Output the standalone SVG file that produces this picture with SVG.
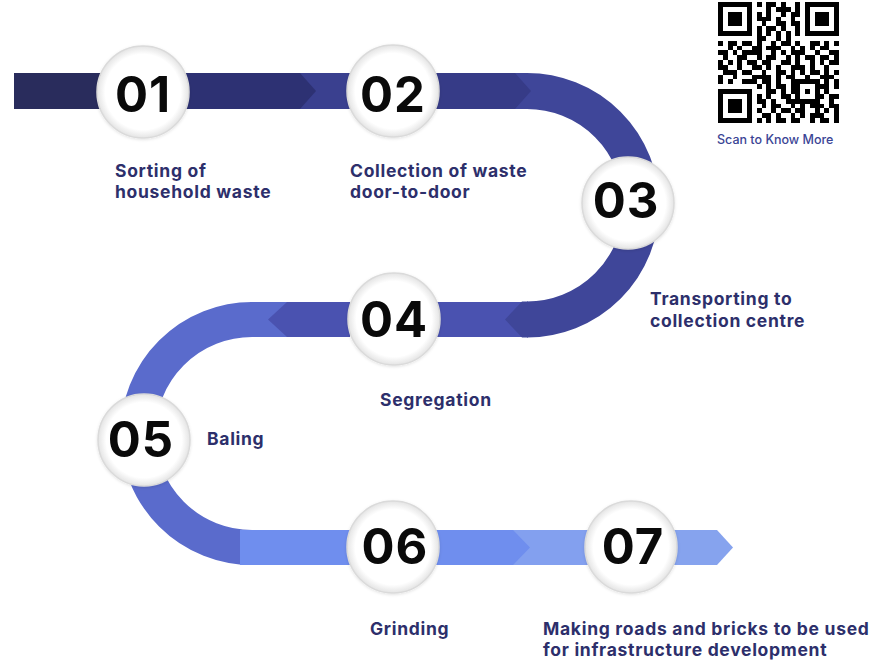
<svg xmlns="http://www.w3.org/2000/svg" width="871" height="660" viewBox="0 0 871 660">
<defs>
<radialGradient id="cg" cx="50%" cy="50%" r="50%">
<stop offset="0" stop-color="#ffffff"/>
<stop offset="0.82" stop-color="#ffffff"/>
<stop offset="1" stop-color="#e4e4e4"/>
</radialGradient>
<filter id="sh" x="-20%" y="-20%" width="140%" height="140%">
<feDropShadow dx="0" dy="1" stdDeviation="1.5" flood-color="#000" flood-opacity="0.12"/>
</filter>
</defs>
<style>
.c{fill:url(#cg);stroke:#dadada;stroke-width:1.5;filter:url(#sh)}
.n{font-family:Inter,"Noto Sans",sans-serif;font-weight:700;font-size:49px;fill:#0a0a0a;text-anchor:middle;letter-spacing:1px}
.l{font-family:Inter,"Open Sans",sans-serif;font-weight:700;font-size:17.5px;fill:#2d2f6b;letter-spacing:0.7px}
.q{font-family:Inter,"Open Sans",sans-serif;font-weight:500;font-size:12.5px;fill:#3b4595}
</style>
<rect width="871" height="660" fill="#ffffff"/>
<g id="connectors">
<rect x="14" y="73" width="92" height="36" fill="#292c5c"/>
<rect x="180" y="73" width="170" height="36" fill="#3a408f"/>
<polygon points="180,73 300,73 316,91 300,109 180,109" fill="#2d3173"/>
<path d="M527 91 A114.25 114.25 0 0 1 527 319.5" fill="none" stroke="#3f4699" stroke-width="36"/>
<rect x="430" y="73" width="98" height="36" fill="#3f4699"/>
<polygon points="430,73 515,73 531,91 515,109 430,109" fill="#363b87"/>
<rect x="430" y="302" width="95" height="35" fill="#4a52b0"/>
<polygon points="528,301.5 522,301.5 505,319.5 522,337.5 528,337.5" fill="#3f4699"/>
<path d="M252 319.5 A114 114 0 0 0 252 547.5" fill="none" stroke="#5a6bcc" stroke-width="35"/>
<rect x="250" y="302" width="50" height="35" fill="#5a6bcc"/>
<polygon points="350,302 287,302 268,319.5 287,337 350,337" fill="#4a52b0"/>
<rect x="240" y="530" width="110" height="35" fill="#6f8eee"/>
<rect x="430" y="530" width="160" height="35" fill="#83a0ef"/>
<polygon points="430,530 513,530 530,547.5 513,565 430,565" fill="#6f8eee"/>
<polygon points="672,530 717,530 733,547.5 717,565 672,565" fill="#86a3ee"/>
</g>
<g id="n01"><circle class="c" cx="143" cy="92" r="46"/><text class="n" x="143" y="112">01</text></g>
<g id="n02"><circle class="c" cx="393" cy="91" r="46"/><text class="n" x="393" y="112">02</text></g>
<g id="n03"><circle class="c" cx="628" cy="203" r="46"/><text class="n" x="626" y="218">03</text></g>
<g id="n04"><circle class="c" cx="394" cy="319" r="46"/><text class="n" x="394" y="337">04</text></g>
<g id="n05"><circle class="c" cx="144" cy="440" r="46"/><text class="n" x="141" y="457">05</text></g>
<g id="n06"><circle class="c" cx="393" cy="547" r="46"/><text class="n" x="395" y="564">06</text></g>
<g id="n07"><circle class="c" cx="631" cy="547" r="46"/><text class="n" x="633" y="564">07</text></g>
<g id="labels">
<text class="l" x="115" y="177">Sorting of</text>
<text class="l" x="115" y="198">household waste</text>
<text class="l" x="350" y="177">Collection of waste</text>
<text class="l" x="350" y="198">door-to-door</text>
<text class="l" x="650" y="305">Transporting to</text>
<text class="l" x="650" y="327">collection centre</text>
<text class="l" x="380" y="406">Segregation</text>
<text class="l" x="207" y="445">Baling</text>
<text class="l" x="370" y="635">Grinding</text>
<text class="l" x="543" y="635">Making roads and bricks to be used</text>
<text class="l" x="543" y="656">for infrastructure development</text>
</g>
<g id="qr">
<path transform="translate(718,2) scale(4.84)" fill="#000" shape-rendering="crispEdges" d="M0 0h7v1h-7zM8 0h1v1h-1zM10 0h2v1h-2zM13 0h1v1h-1zM16 0h1v1h-1zM18 0h7v1h-7z
M0 1h1v1h-1zM6 1h1v1h-1zM10 1h1v1h-1zM12 1h3v1h-3zM16 1h1v1h-1zM18 1h1v1h-1zM24 1h1v1h-1z
M0 2h1v1h-1zM2 2h3v1h-3zM6 2h1v1h-1zM8 2h1v1h-1zM10 2h1v1h-1zM13 2h1v1h-1zM15 2h2v1h-2zM18 2h1v1h-1zM20 2h3v1h-3zM24 2h1v1h-1z
M0 3h1v1h-1zM2 3h3v1h-3zM6 3h1v1h-1zM8 3h3v1h-3zM12 3h1v1h-1zM15 3h1v1h-1zM18 3h1v1h-1zM20 3h3v1h-3zM24 3h1v1h-1z
M0 4h1v1h-1zM2 4h3v1h-3zM6 4h1v1h-1zM9 4h1v1h-1zM12 4h2v1h-2zM15 4h2v1h-2zM18 4h1v1h-1zM20 4h3v1h-3zM24 4h1v1h-1z
M0 5h1v1h-1zM6 5h1v1h-1zM8 5h1v1h-1zM10 5h2v1h-2zM13 5h1v1h-1zM16 5h1v1h-1zM18 5h1v1h-1zM24 5h1v1h-1z
M0 6h7v1h-7zM8 6h1v1h-1zM10 6h1v1h-1zM12 6h1v1h-1zM14 6h1v1h-1zM16 6h1v1h-1zM18 6h7v1h-7z
M8 7h2v1h-2zM12 7h1v1h-1zM14 7h1v1h-1z
M0 8h1v1h-1zM2 8h2v1h-2zM5 8h2v1h-2zM8 8h1v1h-1zM11 8h1v1h-1zM13 8h2v1h-2zM16 8h1v1h-1zM19 8h2v1h-2zM22 8h1v1h-1zM24 8h1v1h-1z
M2 9h1v1h-1zM4 9h1v1h-1zM7 9h2v1h-2zM10 9h3v1h-3zM15 9h1v1h-1zM17 9h1v1h-1zM19 9h1v1h-1zM21 9h2v1h-2z
M0 10h2v1h-2zM3 10h1v1h-1zM5 10h4v1h-4zM11 10h1v1h-1zM13 10h1v1h-1zM15 10h3v1h-3zM20 10h1v1h-1zM23 10h2v1h-2z
M1 11h1v1h-1zM4 11h2v1h-2zM8 11h1v1h-1zM10 11h2v1h-2zM14 11h1v1h-1zM16 11h1v1h-1zM18 11h2v1h-2zM21 11h2v1h-2zM24 11h1v1h-1z
M0 12h1v1h-1zM2 12h1v1h-1zM4 12h1v1h-1zM6 12h2v1h-2zM9 12h2v1h-2zM13 12h2v1h-2zM16 12h1v1h-1zM19 12h1v1h-1zM21 12h1v1h-1zM23 12h2v1h-2z
M0 13h2v1h-2zM4 13h1v1h-1zM7 13h2v1h-2zM10 13h1v1h-1zM12 13h1v1h-1zM15 13h3v1h-3zM19 13h1v1h-1zM22 13h1v1h-1z
M1 14h3v1h-3zM5 14h2v1h-2zM9 14h1v1h-1zM12 14h2v1h-2zM15 14h1v1h-1zM17 14h1v1h-1zM19 14h2v1h-2zM22 14h1v1h-1zM24 14h1v1h-1z
M0 15h1v1h-1zM3 15h1v1h-1zM7 15h4v1h-4zM12 15h1v1h-1zM14 15h2v1h-2zM18 15h1v1h-1zM21 15h3v1h-3z
M0 16h1v1h-1zM2 16h1v1h-1zM5 16h3v1h-3zM9 16h2v1h-2zM12 16h1v1h-1zM15 16h6v1h-6zM22 16h1v1h-1zM24 16h1v1h-1z
M8 17h1v1h-1zM10 17h1v1h-1zM12 17h2v1h-2zM15 17h2v1h-2zM20 17h3v1h-3zM24 17h1v1h-1z
M0 18h7v1h-7zM10 18h2v1h-2zM13 18h1v1h-1zM15 18h2v1h-2zM18 18h1v1h-1zM20 18h1v1h-1zM22 18h1v1h-1z
M0 19h1v1h-1zM6 19h1v1h-1zM8 19h1v1h-1zM10 19h1v1h-1zM13 19h2v1h-2zM16 19h1v1h-1zM20 19h2v1h-2zM23 19h2v1h-2z
M0 20h1v1h-1zM2 20h3v1h-3zM6 20h1v1h-1zM8 20h2v1h-2zM11 20h1v1h-1zM14 20h7v1h-7zM23 20h1v1h-1z
M0 21h1v1h-1zM2 21h3v1h-3zM6 21h1v1h-1zM9 21h1v1h-1zM11 21h2v1h-2zM15 21h1v1h-1zM17 21h1v1h-1zM19 21h3v1h-3zM23 21h2v1h-2z
M0 22h1v1h-1zM2 22h3v1h-3zM6 22h1v1h-1zM8 22h1v1h-1zM11 22h1v1h-1zM13 22h2v1h-2zM16 22h2v1h-2zM20 22h1v1h-1zM22 22h1v1h-1zM24 22h1v1h-1z
M0 23h1v1h-1zM6 23h1v1h-1zM9 23h2v1h-2zM12 23h1v1h-1zM15 23h1v1h-1zM17 23h1v1h-1zM19 23h3v1h-3zM24 23h1v1h-1z
M0 24h7v1h-7zM8 24h1v1h-1zM10 24h1v1h-1zM12 24h2v1h-2zM15 24h2v1h-2zM19 24h1v1h-1zM21 24h2v1h-2zM24 24h1v1h-1z"/>
<text class="q" x="717" y="144">Scan to Know More</text>
</g>
</svg>
